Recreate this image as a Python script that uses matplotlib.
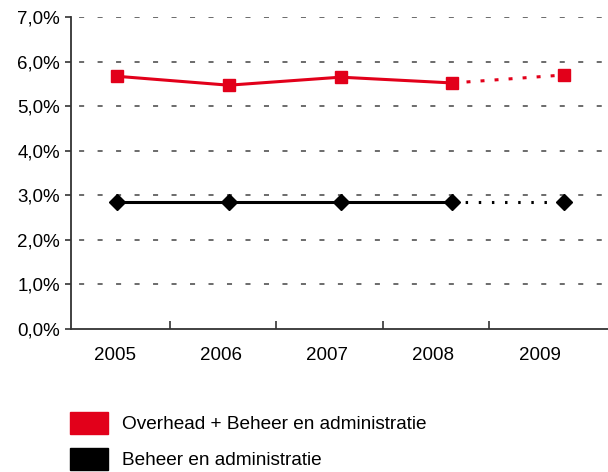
import matplotlib.pyplot as plt
from matplotlib.patches import Patch
from matplotlib.ticker import FuncFormatter
import numpy as np

# Data
years = ['2005', '2006', '2007', '2008', '2009']
overhead = [5.67, 5.47, 5.65, 5.52, 5.70]
beheer = [2.86, 2.86, 2.86, 2.86, 2.86]
yticks = [0, 1, 2, 3, 4, 5, 6, 7]

red = '#e2001a'
plt.rcParams['font.family'] = ['Liberation Sans', 'DejaVu Sans']

fig = plt.figure(figsize=(6.08, 4.72), dpi=100)
ax = fig.add_axes([71 / 608, 143 / 472, 537 / 608, 312 / 472])

x = np.arange(len(years))

# solid part (actual) and dotted part (forecast)
ax.plot(x[:4], overhead[:4], color=red, lw=2.2, zorder=3)
ax.plot(x[3:], overhead[3:], color=red, lw=2.2, ls=(0, (1.3, 3.3)), zorder=3)
ax.plot(x[:4], beheer[:4], color='black', lw=2.2, zorder=3)
ax.plot(x[3:], beheer[3:], color='black', lw=2.2, ls=(0, (0.8, 3.5)), zorder=3)
ax.plot(x, overhead, ls='none', marker='s', ms=9, color=red, zorder=4)
ax.plot(x, beheer, ls='none', marker='D', ms=8.5, color='black', zorder=4)

ax.set_xlim(-0.41, 4.39)
ax.set_ylim(0, 7)

# grid
for v in yticks[1:]:
    ax.axhline(v, color='#444444', lw=1.1, ls=(6.8, (3.3, 8.8)), zorder=1)

ax.set_yticks(yticks)
ax.yaxis.set_major_formatter(FuncFormatter(lambda v, p: f'{v:.1f}%'.replace('.', ',')))
ax.tick_params(axis='y', length=4, width=1.2, color='#333333', labelsize=13.5, pad=4)

# category labels and separators
label_pos = x * 0.95 - 0.02
ax.set_xticks(label_pos)
ax.set_xticklabels(years)
ax.set_xticks((label_pos[:-1] + label_pos[1:]) / 2 + 0.02, minor=True)
ax.tick_params(axis='x', which='major', length=0, labelsize=13.5, pad=13)
ax.tick_params(axis='x', which='minor', direction='in', length=6, width=1.2, color='#333333')

for s in ['top', 'right']:
    ax.spines[s].set_visible(False)
for s in ['left', 'bottom']:
    ax.spines[s].set_color('#333333')
    ax.spines[s].set_linewidth(1.3)

handles = [Patch(color=red), Patch(color='black')]
fig.legend(handles, ['Overhead + Beheer en administratie', 'Beheer en administratie'],
           loc='upper left', bbox_to_anchor=(62 / 608, 1 - 404 / 472), frameon=False,
           fontsize=13.7, handlelength=2.0, handleheight=1.4, labelspacing=0.75,
           handletextpad=0.75, borderaxespad=0)

fig.savefig('out.png', dpi=100)
